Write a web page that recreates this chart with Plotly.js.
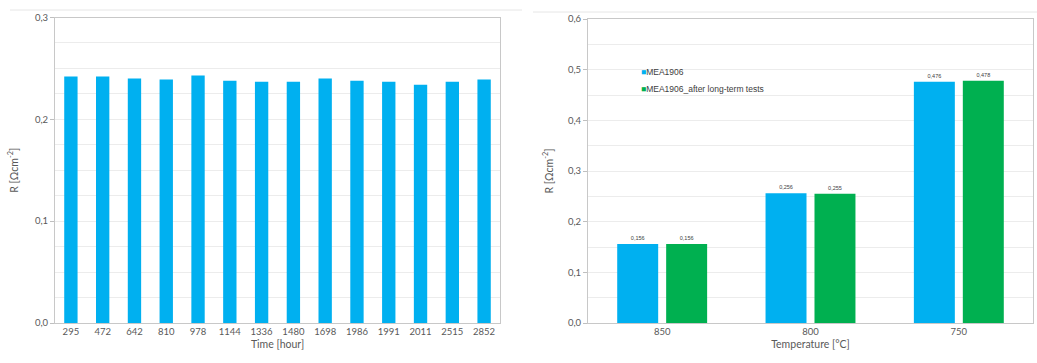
<!DOCTYPE html>
<html>
<head>
<meta charset="utf-8">
<script src="https://cdn.plot.ly/plotly-3.0.1.min.js"></script>
<style>
  html, body { margin: 0; padding: 0; background: #ffffff; }
  #chart { width: 1037px; height: 363px; }
</style>
</head>
<body>
<div id="chart"></div>
<script>
// Resistance over time (left panel)
const timeLabels = ['295', '472', '642', '810', '978', '1144', '1336', '1480', '1698', '1986', '1991', '2011', '2515', '2852'];
const timeResistance = [0.242, 0.242, 0.240, 0.239, 0.243, 0.238, 0.237, 0.237, 0.240, 0.238, 0.237, 0.234, 0.237, 0.239];

// Resistance vs temperature (right panel)
const temperatures = ['850', '800', '750'];
const mea1906 = [0.156, 0.256, 0.476];
const mea1906After = [0.156, 0.255, 0.478];
const seriesNames = ['MEA1906', 'MEA1906_after long-term tests'];

const BLUE = '#00B0F0';
const GREEN = '#00B050';
const TICK_FONT = { family: 'Lato, "Open Sans", sans-serif', size: 9.5, color: '#595959' };
const TITLE_FONT = { family: 'Lato, "Open Sans", sans-serif', size: 10.5, color: '#595959' };
const LABEL_FONT = { family: 'Liberation Sans, Arial, sans-serif', size: 5.5, color: '#404040' };

const W = 1037, H = 363;
const px = v => v / W;
const py = v => 1 - v / H;

// decimal comma for the value labels above the bars
const commaLabel = v => v.toFixed(3).replace('.', ',');

const traces = [
  {
    type: 'bar', x: timeLabels, y: timeResistance, width: 0.42,
    marker: { color: BLUE }, xaxis: 'x', yaxis: 'y', showlegend: false,
    hoverinfo: 'x+y'
  },
  {
    type: 'bar', name: seriesNames[0], x: temperatures, y: mea1906,
    marker: { color: BLUE }, xaxis: 'x2', yaxis: 'y2', showlegend: false,
    text: mea1906.map(commaLabel), texttemplate: '%{text}',
    textposition: 'outside', cliponaxis: false, textfont: LABEL_FONT
  },
  {
    type: 'bar', name: seriesNames[1], x: temperatures, y: mea1906After,
    marker: { color: GREEN }, xaxis: 'x2', yaxis: 'y2', showlegend: false,
    text: mea1906After.map(commaLabel), texttemplate: '%{text}',
    textposition: 'outside', cliponaxis: false, textfont: LABEL_FONT
  }
];

const yCommon = {
  tickformat: '.1f',
  ticks: 'outside', ticklen: 4, tickcolor: '#bfbfbf',
  tickfont: TICK_FONT,
  showline: true, linecolor: '#c8c8c8', linewidth: 1, mirror: true,
  gridcolor: '#ececec', gridwidth: 1,
  zeroline: false, fixedrange: true
};
const xCommon = {
  type: 'category',
  ticks: '', tickfont: TICK_FONT,
  showline: true, linecolor: '#c8c8c8', linewidth: 1, mirror: true,
  showgrid: false, zeroline: false, fixedrange: true
};

const layout = {
  width: W, height: H,
  margin: { l: 0, r: 0, t: 0, b: 0 },
  paper_bgcolor: '#ffffff', plot_bgcolor: '#ffffff',
  separators: ', ',
  barmode: 'group',
  bargap: 0.34,
  bargroupgap: 0.163,
  showlegend: false,
  xaxis: Object.assign({}, xCommon, {
    domain: [px(55), px(500)], anchor: 'y',
    title: { text: 'Time [hour]', font: TITLE_FONT, standoff: 4 }
  }),
  yaxis: Object.assign({}, yCommon, {
    domain: [py(323), py(17.5)], anchor: 'x',
    range: [0, 0.3], dtick: 0.1,
    minor: { dtick: 0.025, showgrid: true, gridcolor: '#ececec' },
    title: { text: 'R [Ωcm<sup>-2</sup>]', font: TITLE_FONT, standoff: 14 }
  }),
  xaxis2: Object.assign({}, xCommon, {
    domain: [px(588), px(1033)], anchor: 'y2',
    title: { text: 'Temperature [°C]', font: TITLE_FONT, standoff: 4 }
  }),
  yaxis2: Object.assign({}, yCommon, {
    domain: [py(323), py(19)], anchor: 'x2',
    range: [0, 0.6], dtick: 0.1,
    minor: { dtick: 0.05, showgrid: true, gridcolor: '#ececec' },
    title: { text: 'R [Ωcm<sup>-2</sup>]', font: TITLE_FONT, standoff: 12 }
  }),
  shapes: [
    // faint outer frames of the two chart areas
    { type: 'line', xref: 'paper', yref: 'paper', x0: px(10), x1: px(522), y0: py(10), y1: py(10),
      line: { color: '#e6e6e6', width: 1 } },
    { type: 'line', xref: 'paper', yref: 'paper', x0: px(533), x1: px(1037), y0: py(12), y1: py(12),
      line: { color: '#e6e6e6', width: 1 } }
  ],
  annotations: [
    { xref: 'paper', yref: 'paper', x: px(639), y: py(72), xanchor: 'left', yanchor: 'middle', showarrow: false,
      text: '<span style="color:' + BLUE + '">■</span>' + seriesNames[0],
      font: { family: 'Liberation Sans, Arial, sans-serif', size: 8.5, color: '#404040' } },
    { xref: 'paper', yref: 'paper', x: px(639), y: py(89), xanchor: 'left', yanchor: 'middle', showarrow: false,
      text: '<span style="color:' + GREEN + '">■</span>' + seriesNames[1],
      font: { family: 'Liberation Sans, Arial, sans-serif', size: 8.5, color: '#404040' } }
  ]
};

Plotly.newPlot('chart', traces, layout, { displayModeBar: false, staticPlot: true });
</script>
</body>
</html>
